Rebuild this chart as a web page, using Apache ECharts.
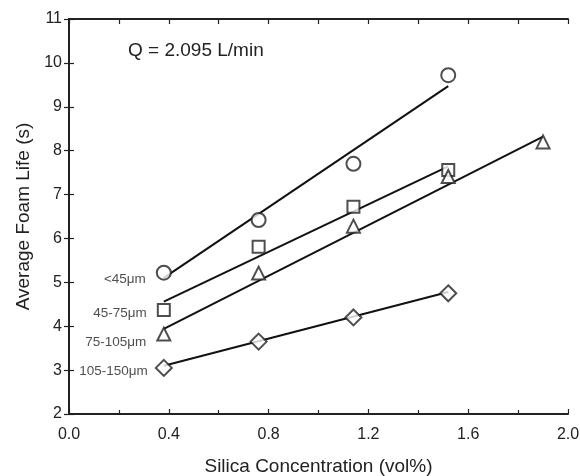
<!DOCTYPE html>
<html>
<head>
    <meta charset="utf-8">
    <title>ECharts</title>
    <script src="https://cdn.jsdelivr.net/npm/echarts@6/dist/echarts.min.js"></script>
</head>
<body style="margin:0;background:#fff;">
<div id="main" style="width: 580px;height:476px;"></div>
<script type="text/javascript">
    // measured points
    var silica = [0.38, 0.76, 1.14, 1.52];
    var silicaLong = [0.38, 0.76, 1.14, 1.52, 1.90];
    var lt45 = [5.22, 6.42, 7.70, 9.72];
    var s45_75 = [4.37, 5.81, 6.72, 7.56];
    var s75_105 = [3.82, 5.21, 6.28, 7.41, 8.20];
    var s105_150 = [3.05, 3.65, 4.20, 4.75];
    var sizeNames = ['<45\u03bcm', '45-75\u03bcm', '75-105\u03bcm', '105-150\u03bcm'];

    // fitted line end points [x, y]
    var fitLt45 = [[0.38, 5.10], [1.52, 9.47]];
    var fit45_75 = [[0.38, 4.56], [1.52, 7.64]];
    var fit75_105 = [[0.38, 3.94], [1.90, 8.32]];
    var fit105_150 = [[0.38, 3.10], [1.52, 4.78]];

    var font = 'Liberation Sans, Arial, sans-serif';

    function pts(xs, ys, name, offset, dist) {
        return ys.map(function (y, i) {
            var d = { value: [xs[i], y] };
            if (i === 0) {
                d.label = {
                    show: true, position: 'left', distance: dist || 10,
                    formatter: name, fontSize: 13.5, color: '#222',
                    fontFamily: font, offset: offset || [0, 0]
                };
            }
            return d;
        });
    }

    function fitSeries(data) {
        return {
            type: 'line', data: data, symbol: 'none', silent: true,
            lineStyle: { color: '#111', width: 2 }, z: 1
        };
    }

    function pointSeries(name, symbol, size, data) {
        return {
            name: name, type: 'scatter', symbol: symbol, symbolSize: size,
            data: data, z: 3,
            itemStyle: { color: '#222', borderWidth: 1 }
        };
    }

    var axisCommon = {
        axisLine: { lineStyle: { color: '#222', width: 2 } },
        axisTick: { inside: true, length: 5, lineStyle: { color: '#222', width: 1.2 } },
        splitLine: { show: false }
    };

    var myChart = echarts.init(document.getElementById('main'));
    var option = {
        backgroundColor: '#fff',
        animation: false,
        grid: { left: 69, right: 12, top: 19, bottom: 62, outerBoundsMode: 'none', containLabel: false },
        graphic: [{
            type: 'text', left: 128, top: 41,
            style: { text: 'Q = 2.095 L/min', fontSize: 19, fill: '#222', fontFamily: font }
        }],
        xAxis: [Object.assign({}, axisCommon, {
            type: 'value', min: 0, max: 2, interval: 0.4,
            name: 'Silica Concentration (vol%)', nameLocation: 'middle', nameGap: 43,
            nameTextStyle: { fontSize: 19, color: '#222', fontFamily: font },
            minorTick: { show: true, splitNumber: 2, length: 4, lineStyle: { color: '#222', width: 1.2 } },
            axisLabel: { fontSize: 16, color: '#222', fontFamily: font, margin: 13,
                formatter: function (v) { return v.toFixed(1); } }
        }), Object.assign({}, axisCommon, {
            type: 'value', position: 'top', min: 0, max: 2, interval: 0.2,
            axisLabel: { show: false }
        })],
        yAxis: [Object.assign({}, axisCommon, {
            type: 'value', min: 2, max: 11, interval: 1,
            name: 'Average Foam Life (s)', nameLocation: 'middle', nameGap: 35,
            nameTextStyle: { fontSize: 19, color: '#222', fontFamily: font },
            axisLabel: { fontSize: 16, color: '#222', fontFamily: font, margin: 7 }
        }), Object.assign({}, axisCommon, {
            type: 'value', position: 'right', min: 2, max: 11, interval: 1,
            axisLabel: { show: false }
        })],
        series: [
            fitSeries(fitLt45),
            fitSeries(fit45_75),
            fitSeries(fit75_105),
            fitSeries(fit105_150),
            pointSeries(sizeNames[0], 'emptyCircle', 14, pts(silica, lt45, sizeNames[0], [0, 7])),
            pointSeries(sizeNames[1], 'emptyRect', 12, pts(silica, s45_75, sizeNames[1], [0, 3])),
            pointSeries(sizeNames[2], 'emptyTriangle', 13, pts(silicaLong, s75_105, sizeNames[2], [0, 8])),
            pointSeries(sizeNames[3], 'emptyDiamond', 16, pts(silica, s105_150, sizeNames[3], [0, 3], 7))
        ]
    };
    myChart.setOption(option);
</script>
</body>
</html>
